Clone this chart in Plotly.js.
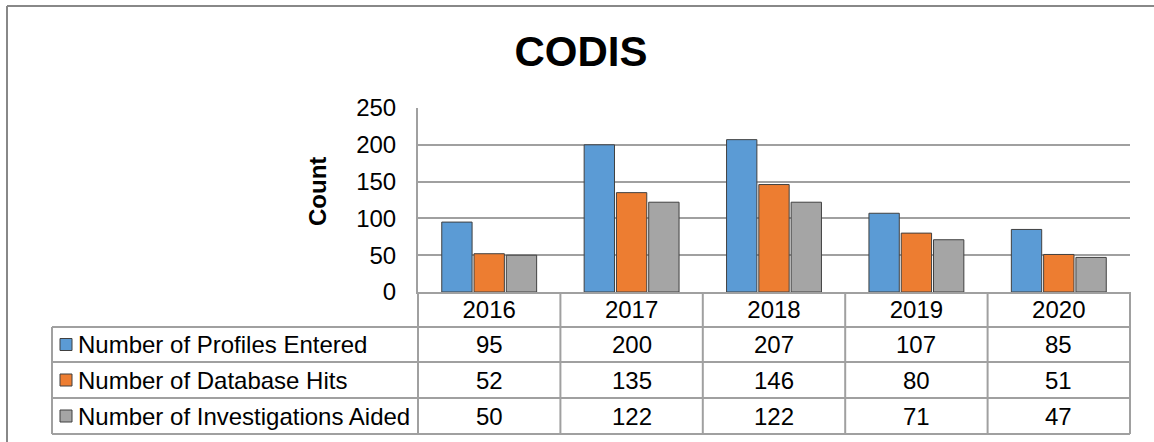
<!DOCTYPE html>
<html>
<head>
<meta charset="utf-8">
<script src="https://cdn.plot.ly/plotly-3.0.1.min.js"></script>
<style>
  body { margin: 0; background: #fff; }
  #chart { width: 1154px; height: 442px; }
</style>
</head>
<body>
<div id="chart"></div>
<script>
// CODIS counts per year, bars + Excel-style data table underneath

const years = ['2016', '2017', '2018', '2019', '2020'];
const seriesNames = ['Number of Profiles Entered', 'Number of Database Hits', 'Number of Investigations Aided'];
const profilesEntered = [95, 200, 207, 107, 85];
const databaseHits = [52, 135, 146, 80, 51];
const investigationsAided = [50, 122, 122, 71, 47];
const colors = ['#5b9bd5', '#ed7d31', '#a5a5a5'];

const seriesValues = [profilesEntered, databaseHits, investigationsAided];

// plot area in pixels
const W = 1154, H = 442;
const L = 418, R = 1130, T = 108, B = 292;
const px = x => (x - L) / (R - L);
const py = y => (B - y) / (B - T);

const font = 'Arial, "Liberation Sans", sans-serif';
const lineCol = '#a0a0a0';
const fs = 24;

const traces = seriesValues.map((vals, i) => ({
    type: 'bar',
    x: years,
    y: vals,
    name: seriesNames[i],
    marker: {color: colors[i], line: {color: '#404040', width: 1}},
    hoverinfo: 'x+y+name'
}));

const shapes = [];
const annotations = [];

// outer chart border (left and top)
shapes.push({type: 'line', xref: 'paper', yref: 'paper', x0: px(7), x1: px(7), y0: py(6), y1: py(H), line: {color: '#888', width: 2}});
shapes.push({type: 'line', xref: 'paper', yref: 'paper', x0: px(7), x1: px(W), y0: py(6), y1: py(6), line: {color: '#888', width: 2}});

// table rows: header row of years, then one row per series
const rowLines = [327, 362, 398, 434];
rowLines.forEach(y => {
    shapes.push({type: 'line', xref: 'paper', yref: 'paper', x0: px(52), x1: px(R), y0: py(y), y1: py(y), line: {color: lineCol, width: 2}});
});
// vertical lines between year columns
for (let c = 0; c <= years.length; c++) {
    const xp = c / years.length;
    shapes.push({type: 'line', xref: 'paper', yref: 'paper', x0: xp, x1: xp, y0: py(B), y1: py(434), line: {color: lineCol, width: 2}});
}
shapes.push({type: 'line', xref: 'paper', yref: 'paper', x0: px(52), x1: px(52), y0: py(327), y1: py(434), line: {color: lineCol, width: 2}});

const rowCenters = [344.5, 380, 416];
seriesNames.forEach((name, i) => {
    const yc = rowCenters[i];
    shapes.push({type: 'rect', xref: 'paper', yref: 'paper', x0: px(60), x1: px(72), y0: py(yc - 6), y1: py(yc + 6),
        fillcolor: colors[i], line: {color: '#404040', width: 1}});
    annotations.push({xref: 'paper', yref: 'paper', x: px(76), y: py(yc), xanchor: 'left', yanchor: 'middle',
        text: name, showarrow: false, font: {family: font, size: fs, color: '#000'}});
    seriesValues[i].forEach((v, j) => {
        annotations.push({xref: 'paper', yref: 'paper', x: (j + 0.5) / years.length, y: py(yc), xanchor: 'center', yanchor: 'middle',
            text: String(v), showarrow: false, font: {family: font, size: fs, color: '#000'}});
    });
});

// y axis title
annotations.push({xref: 'paper', yref: 'paper', x: px(317), y: py(192), xanchor: 'center', yanchor: 'middle',
    text: '<b>Count</b>', textangle: -90, showarrow: false, font: {family: font, size: fs, color: '#000'}});

const layout = {
    width: W,
    height: H,
    margin: {l: L, r: W - R, t: T, b: H - B, pad: 0},
    paper_bgcolor: '#fff',
    plot_bgcolor: '#fff',
    showlegend: false,
    title: {
        text: '<b>CODIS</b>',
        font: {family: font, size: 42, color: '#000'},
        x: 581 / W, xref: 'container', xanchor: 'center',
        y: 1 - 51 / H, yref: 'container', yanchor: 'middle'
    },
    barmode: 'group',
    bargap: 0.32,
    bargroupgap: 0.06,
    xaxis: {
        type: 'category',
        range: [-0.5, years.length - 0.5],
        autorange: false,
        showline: true,
        linecolor: lineCol,
        linewidth: 2,
        ticks: '',
        showgrid: false,
        tickfont: {family: font, size: fs, color: '#000'},
        ticklabelstandoff: -5,
        fixedrange: true
    },
    yaxis: {
        range: [0, 250],
        autorange: false,
        dtick: 50,
        showline: true,
        linecolor: lineCol,
        linewidth: 2,
        showgrid: true,
        gridcolor: lineCol,
        gridwidth: 2,
        zeroline: false,
        ticks: '',
        ticklabelstandoff: 15,
        tickfont: {family: font, size: fs, color: '#000'},
        fixedrange: true
    },
    shapes: shapes,
    annotations: annotations,
    font: {family: font}
};

Plotly.newPlot('chart', traces, layout, {displayModeBar: false});
</script>
</body>
</html>
